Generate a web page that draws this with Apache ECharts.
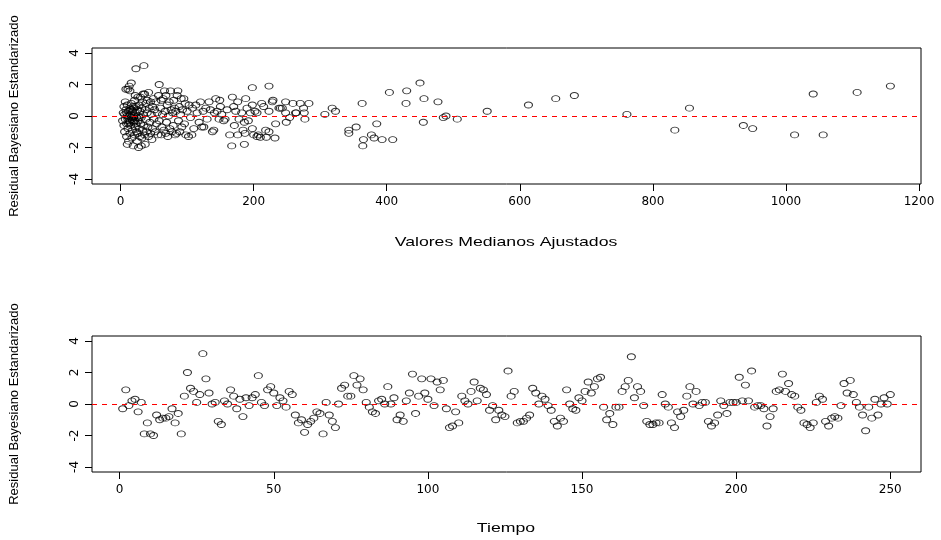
<!DOCTYPE html>
<html><head><meta charset="utf-8">
<script src="https://cdn.jsdelivr.net/npm/echarts@6/dist/echarts.min.js"></script>
<style>html,body{margin:0;padding:0;background:#fff}#c{width:941px;height:540px}</style>
</head><body><div id="c"></div>
<script>
// Residuals in time order (t = 1..250)
const residTiempo = [
-0.3,0.9,-0.1,0.2,0.3,-0.5,0.1,-1.9,-1.2,-1.9,
-2.0,-0.7,-1.0,-0.9,-0.9,-0.8,-0.3,-1.2,-0.6,-1.9,
0.5,2.0,1.0,0.8,0.1,0.6,3.2,1.6,0.7,0.0,
0.1,-1.1,-1.3,0.2,0.0,0.9,0.5,-0.3,0.3,-0.8,
0.4,-0.1,0.4,0.6,1.8,0.1,-0.1,0.9,1.1,0.7,
-0.1,0.4,0.2,-0.2,0.8,0.6,-0.7,-1.2,-1.0,-1.8,
-1.3,-1.1,-0.9,-0.5,-0.6,-1.9,0.1,-0.7,-1.1,-1.5,
0.0,1.0,1.2,0.5,0.5,1.8,1.2,1.6,0.9,0.1,
-0.2,-0.5,-0.6,0.2,0.3,0.0,1.1,0.0,0.4,-1.0,
-0.7,-1.1,0.2,0.7,1.9,-0.6,0.5,1.6,0.7,0.3,
1.6,-0.1,1.4,0.9,1.5,-0.3,-1.5,-1.4,-0.5,-1.2,
0.5,0.2,0.0,0.8,1.4,0.2,1.0,0.9,0.6,-0.4,
-0.1,-1.0,-0.4,-0.7,-0.8,2.1,0.5,0.8,-1.2,-1.1,
-1.1,-0.9,-0.7,1.0,0.7,0.0,0.5,0.3,-0.1,-0.4,
-1.1,-1.4,-0.9,-1.1,0.9,0.0,-0.3,-0.4,0.4,0.2,
0.8,1.4,0.7,1.1,1.6,1.7,-0.2,-1.0,-0.6,-1.3,
-0.2,-0.2,0.8,1.1,1.5,3.0,0.4,1.1,0.8,-0.1,
-1.1,-1.3,-1.3,-1.2,-1.2,0.6,0.0,-0.2,-1.2,-1.5,
-0.5,-0.8,-0.4,0.5,1.1,0.0,0.8,-0.1,0.1,0.1,
-1.1,-1.4,-1.2,-0.7,0.2,-0.1,-0.6,0.1,0.1,0.1,
1.7,0.2,1.2,0.2,2.1,-0.2,-0.1,-0.1,-0.3,-1.4,
-0.8,-0.3,0.8,0.9,1.9,0.8,1.3,0.6,0.5,-0.2,
-0.4,-1.2,-1.3,-1.5,-1.2,0.1,0.5,0.3,-1.1,-1.4,
-0.9,-0.8,-0.9,-0.1,1.3,0.7,1.5,0.6,0.1,-0.2,
-0.7,-1.7,-0.2,-0.9,0.3,-0.7,0.0,0.4,0.0,0.6
];

// Fitted median values and their residuals (top panel)
const ajustados = [
3,4,5,5,6,6,7,7,8,8,9,9,10,10,11,11,12,12,13,13,14,14,15,15,16,16,17,17,18,18,19,19,20,20,21,21,22,22,23,23,24,24,25,25,26,26,27,27,28,28,29,29,30,30,31,31,32,32,33,33,34,34,35,35,36,36,37,37,38,38,39,40,40,41,42,42,43,44,45,45,46,47,48,48,49,50,
9,11,13,14,16,17,19,21,23,15,12,18,20,22,10,26,14,28,
51,52,53,54,55,56,57,58,58,60,61,61,62,63,64,65,66,67,68,68,69,70,71,72,73,74,75,76,77,78,79,80,81,82,83,84,85,86,87,88,89,90,91,92,93,95,96,97,98,100,102,103,105,107,108,110,113,115,118,120,122,124,125,128,130,133,135,138,140,141,143,145,148,149,150,152,155,157,160,164,167,168,170,171,173,176,176,178,182,184,186,186,187,188,190,192,195,198,198,198,200,202,205,205,207,210,212,215,218,219,223,223,223,228,229,232,233,238,240,
243,248,248,249,254,259,263,264,270,275,276,277,283,307,318,323,343,343,354,363,365,364,377,381,385,393,404,409,430,429,450,456,455,477,485,489,506,551,613,654,682,761,833,855,936,950,1013,1041,1056,1107,1157
];
const residAjustados = [
-0.3,0.2,-0.6,0.6,0.1,-1.0,0.9,-0.2,1.7,0.4,-0.5,-1.3,0.7,0.0,1.7,-0.8,0.3,-1.6,1.9,-0.3,0.5,-1.1,0.1,-0.6,2.1,0.8,-0.2,-1.4,0.3,-0.9,-1.9,0.6,0.0,-0.4,1.0,-1.2,0.2,-0.7,3.0,0.6,-0.1,-1.0,0.4,-1.6,1.2,-0.3,-2.0,0.0,0.7,-0.8,-1.3,0.3,1.2,-0.5,-0.1,-1.9,0.5,-1.4,0.9,-0.9,1.4,0.1,3.2,-0.6,1.4,-1.2,-1.8,0.4,0.8,-0.2,-1.0,1.0,0.2,-0.7,1.5,-1.3,0.5,-0.4,0.9,-1.1,0.1,-1.5,0.6,-0.8,1.1,-0.2,
0.2,-0.2,0.0,-0.4,-0.1,0.4,-0.1,-0.3,-0.5,0.4,-0.5,-0.3,0.5,1.3,-1.8,-1.1,1.6,-0.1,
0.4,-1.0,0.9,-0.5,0.2,-1.2,1.3,2.0,-0.3,0.5,1.0,-1.2,-0.7,0.1,1.1,-0.9,1.6,0.3,1.3,-1.1,-0.4,0.7,-1.3,0.0,0.9,-0.8,1.6,0.4,-1.0,0.2,-0.6,1.0,0.5,-1.2,0.3,-1.1,1.3,1.6,-0.3,0.6,-1.0,0.1,1.1,-0.7,0.4,1.1,-0.5,0.8,-1.2,0.3,-1.3,0.7,-0.1,-1.2,0.5,-0.8,0.7,0.2,-0.4,0.9,-0.7,0.3,-0.7,0.5,-0.2,0.9,0.4,-1.0,-0.9,0.2,1.1,0.3,-0.2,1.0,0.6,0.1,-0.3,-0.2,0.4,-1.2,-1.9,1.2,0.6,-0.6,0.3,0.9,-1.2,-0.2,0.2,-0.9,-0.4,-1.8,-1.1,1.1,0.5,-0.3,0.2,1.8,0.7,-0.8,-1.2,0.3,0.2,-1.3,-1.2,-1.35,0.8,0.6,-0.9,-1.35,1.9,0.3,-1.0,0.9,1.0,-1.4,-0.5,0.5,0.5,
0.5,0.9,0.2,-0.4,-0.1,0.8,0.2,0.2,0.8,0.5,0.2,-0.2,0.8,0.1,0.5,0.3,-0.9,-1.1,-0.7,0.8,-1.5,-1.9,-1.2,-1.4,-0.5,-1.5,1.5,-1.5,1.6,0.8,2.1,1.1,-0.4,0.9,-0.1,0.0,-0.2,0.3,0.7,1.1,1.3,0.1,-0.9,0.5,-0.6,-0.8,-1.2,1.4,-1.2,1.5,1.9
];

const ticksAjustados = [0,200,400,600,800,1000,1200];
const ticksTiempo = [0,50,100,150,200,250];
const ticksResid = [-4,-2,0,2,4];

const tiempo = residTiempo.map((v,i)=>[i+1, v]);
const topPts = ajustados.map((f,i)=>[f, residAjustados[i]]);

const chart = echarts.init(document.getElementById('c'), null, {renderer:'canvas'});
const lblFont = 'DejaVu Sans';
const plain = v => String(v);
function xAx(grid, min, max, ticks){
  return {type:'value', gridIndex:grid, min:min, max:max, position:'bottom',
    axisLine:{show:false, onZero:false}, splitLine:{show:false},
    axisTick:{show:true, length:7, inside:false, customValues:ticks, lineStyle:{color:'#000',width:1}},
    axisLabel:{show:true, customValues:ticks, formatter:plain, margin:12, color:'#000', fontSize:12, fontFamily:lblFont}};
}
function yAx(grid){
  return {type:'value', gridIndex:grid, min:-4.32, max:4.32, position:'left',
    axisLine:{show:false, onZero:false}, splitLine:{show:false},
    axisTick:{show:true, length:7, inside:false, customValues:ticksResid, lineStyle:{color:'#000',width:1}},
    axisLabel:{show:true, customValues:ticksResid, formatter:plain, rotate:90, margin:11, color:'#000', fontSize:12, fontFamily:lblFont}};
}
const ptStyle = {color:'rgba(0,0,0,0)', borderColor:'#000', borderWidth:1};
const zeroLine = {silent:true, symbol:'none', label:{show:false},
  lineStyle:{color:'#ff0000', type:[5,5], width:1}, data:[{yAxis:0}]};
function txt(text, x, y, rot){
  const el = {type:'text', x:x, y:y, silent:true,
    style:{text:text, fill:'#000', font:(rot ? '13px' : '13.6px') + ' "Liberation Sans", Arial, sans-serif',
      textAlign:'center', textVerticalAlign:'middle', align:'center', verticalAlign:'middle'}};
  if (rot) { el.rotation = Math.PI/2; } else { el.scaleX = 1.3; }
  return el;
}

chart.setOption({
  animation:false,
  backgroundColor:'#fff',
  grid:[
    {left:92, width:829, top:48, height:136, show:true, borderColor:'#000', borderWidth:1, backgroundColor:'transparent'},
    {left:92, width:829, top:336, height:136, show:true, borderColor:'#000', borderWidth:1, backgroundColor:'transparent'}
  ],
  xAxis:[xAx(0,-43,1203,ticksAjustados), xAx(1,-8.96,259.96,ticksTiempo)],
  yAxis:[yAx(0), yAx(1)],
  series:[
    {type:'scatter', xAxisIndex:0, yAxisIndex:0, data:topPts, symbol:'circle', symbolSize:[8,6],
     itemStyle:ptStyle, emphasis:{disabled:true}, markLine:zeroLine, z:3},
    {type:'scatter', xAxisIndex:1, yAxisIndex:1, data:tiempo, symbol:'circle', symbolSize:[8,6],
     itemStyle:ptStyle, emphasis:{disabled:true}, markLine:zeroLine, z:3}
  ],
  graphic:[
    txt('Valores Medianos Ajustados', 506, 242, false),
    txt('Tiempo', 506, 528, false),
    txt('Residual Bayesiano Estandarizado', 14, 116, true),
    txt('Residual Bayesiano Estandarizado', 14, 404, true)
  ]
});
</script></body></html>
